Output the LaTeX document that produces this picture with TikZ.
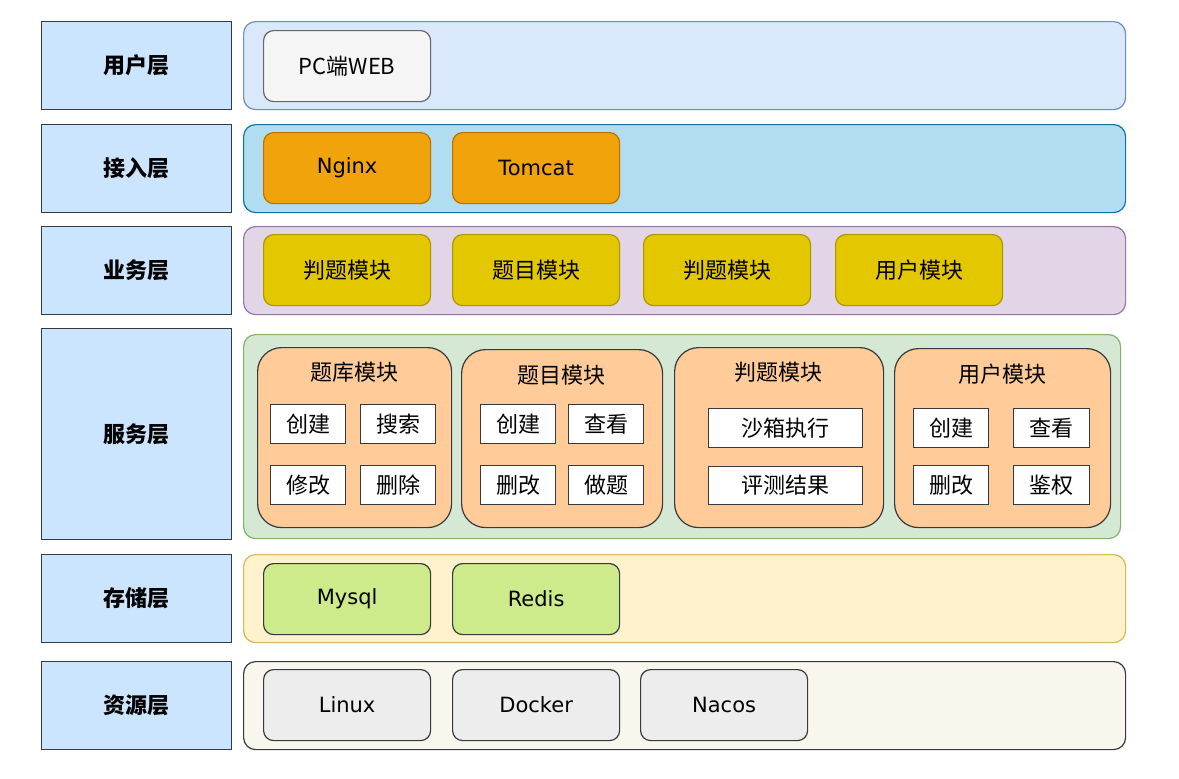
\documentclass[tikz,border=0pt]{standalone}
\usepackage{fontspec}
\setmainfont{Noto Sans CJK SC}
\newfontfamily\latinfont{DejaVu Sans}
\definecolor{lblfill}{HTML}{CCE5FF}
\definecolor{darkline}{HTML}{36393D}
\definecolor{userfill}{HTML}{DAE8FC}
\definecolor{userline}{HTML}{6C8EBF}
\definecolor{accfill}{HTML}{B1DDF0}
\definecolor{accline}{HTML}{10739E}
\definecolor{bizfill}{HTML}{E1D5E7}
\definecolor{bizline}{HTML}{9673A6}
\definecolor{svcfill}{HTML}{D5E8D4}
\definecolor{svcline}{HTML}{82B366}
\definecolor{stofill}{HTML}{FFF2CC}
\definecolor{stoline}{HTML}{D6B656}
\definecolor{resfill}{HTML}{F9F7ED}
\definecolor{orangefill}{HTML}{F0A30A}
\definecolor{orangeline}{HTML}{BD7000}
\definecolor{yellowfill}{HTML}{E3C800}
\definecolor{yellowline}{HTML}{B09500}
\definecolor{modfill}{HTML}{FFCC99}
\definecolor{greenfill}{HTML}{CDEB8B}
\tikzset{
  every node/.style={inner sep=0pt,font=\fontsize{22}{26}\selectfont},
  lyrlabel/.style={draw=darkline,fill=lblfill,line width=1.3pt,anchor=north west,
    minimum width=190pt,minimum height=88pt,font=\fontsize{22}{26}\selectfont\bfseries},
  lyrbg/.style={draw=#1,line width=1.2pt,rounded corners=12pt,anchor=north west,
    minimum width=882pt,minimum height=88pt},
  part/.style={draw=#1,line width=1.2pt,rounded corners=10pt,anchor=north west,
    minimum width=167pt,minimum height=71pt},
  latin/.style={font=\fontsize{21}{25}\latinfont},
  module/.style={draw=darkline,fill=modfill,line width=1.2pt,rounded corners=24pt,anchor=north west},
  func/.style={draw=darkline,fill=white,line width=1.2pt,anchor=north west,
    minimum width=75pt,minimum height=39pt}
}
\begin{document}
\begin{tikzpicture}[x=1pt,y=-1pt]
\useasboundingbox[fill=white] (0,0) rectangle (1179,779);
% layer names
\node[lyrlabel] (lUser) at (41,21) {用户层};
\node[lyrlabel] (lAccess) at (41,124) {接入层};
\node[lyrlabel] (lBiz) at (41,226) {业务层};
\node[lyrlabel,minimum height=211pt] (lSvc) at (41,328) {服务层};
\node[lyrlabel] (lStore) at (41,554) {存储层};
\node[lyrlabel] (lRes) at (41,661) {资源层};
% layer backgrounds
\node[lyrbg=userline,fill=userfill] (bgUser) at (243,21) {};
\node[lyrbg=accline,fill=accfill] (bgAccess) at (243,124) {};
\node[lyrbg=bizline,fill=bizfill] (bgBiz) at (243,226) {};
\node[lyrbg=svcline,fill=svcfill,minimum width=877pt,minimum height=204pt] (bgSvc) at (243,334) {};
\node[lyrbg=stoline,fill=stofill] (bgStore) at (243,554) {};
\node[lyrbg=darkline,fill=resfill] (bgRes) at (243,661) {};
% user layer
\node[part=gray!80!black,fill=black!4] (web) at (263,30) {PC端WEB};
% access layer
\node[part=orangeline,fill=orangefill,latin] (nginx) at (263,132) {Nginx};
\node[part=orangeline,fill=orangefill,latin] (tomcat) at (452,132) {Tomcat};
% business layer
\node[part=yellowline,fill=yellowfill] (bJudge) at (263,234) {判题模块};
\node[part=yellowline,fill=yellowfill] (bQuestion) at (452,234) {题目模块};
\node[part=yellowline,fill=yellowfill] (bJudgeB) at (643,234) {判题模块};
\node[part=yellowline,fill=yellowfill] (bUser) at (835,234) {用户模块};
% service layer
\node[module,minimum width=194pt,minimum height=180pt] (mBank) at (257,347) {};
\node (mBankT) at (354,372) {题库模块};
\node[func] (bankNew) at (270,404) {创建};
\node[func] (bankFind) at (360,404) {搜索};
\node[func] (bankEdit) at (270,465) {修改};
\node[func] (bankDel) at (360,465) {删除};
\node[module,minimum width=201pt,minimum height=178pt] (mQues) at (461,349) {};
\node (mQuesT) at (561,375) {题目模块};
\node[func] (quesNew) at (480,404) {创建};
\node[func] (quesView) at (568,404) {查看};
\node[func] (quesEdit) at (480,465) {删改};
\node[func] (quesDo) at (568,465) {做题};
\node[module,minimum width=209pt,minimum height=180pt] (mJudge) at (674,347) {};
\node (mJudgeT) at (778,372) {判题模块};
\node[func,minimum width=154pt] (sandbox) at (708,408) {沙箱执行};
\node[func,minimum width=154pt,minimum height=38pt] (result) at (708,466) {评测结果};
\node[module,minimum width=216pt,minimum height=179pt] (mUser) at (894,348) {};
\node (mUserT) at (1002,374) {用户模块};
\node[func] (userNew) at (913,408) {创建};
\node[func,minimum width=76pt] (userView) at (1013,408) {查看};
\node[func] (userEdit) at (913,465) {删改};
\node[func,minimum width=76pt] (userAuth) at (1013,465) {鉴权};
% storage layer
\node[part=darkline,fill=greenfill,latin] (mysql) at (263,563) {Mysql};
\node[part=darkline,fill=greenfill,latin] (redis) at (452,563) {Redis};
% resource layer
\node[part=darkline,fill=black!7,latin] (linux) at (263,669) {Linux};
\node[part=darkline,fill=black!7,latin] (docker) at (452,669) {Docker};
\node[part=darkline,fill=black!7,latin] (nacos) at (640,669) {Nacos};
\end{tikzpicture}
\end{document}
